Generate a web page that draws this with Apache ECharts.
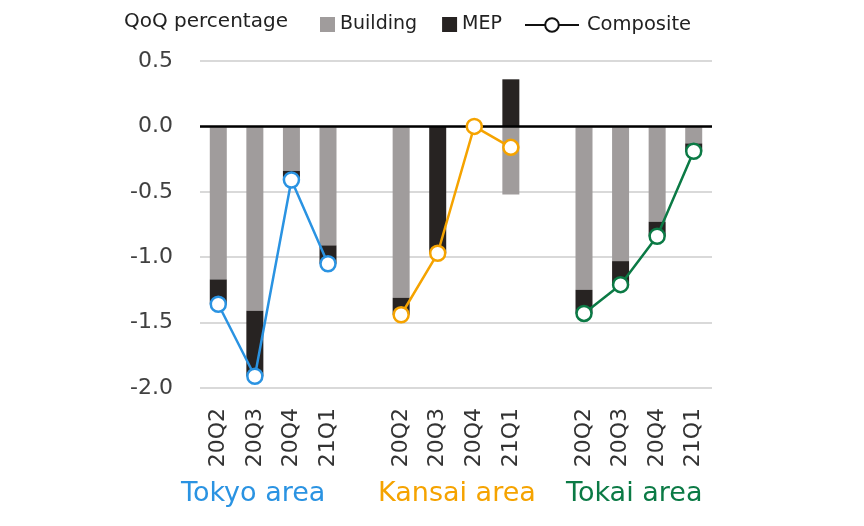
<!DOCTYPE html>
<html>
<head>
<meta charset="utf-8">
<script src="https://cdn.jsdelivr.net/npm/echarts@6/dist/echarts.min.js"></script>
<style>
html, body { margin: 0; padding: 0; background: #fff; }
#main { width: 864px; height: 526px; }
</style>
</head>
<body>
<div id="main"></div>
<script>
var quarters = ['20Q2', '20Q3', '20Q4', '21Q1'];
var areaNames = ['Tokyo area', 'Kansai area', 'Tokai area'];
var yTicks = [-2.0, -1.5, -1.0, -0.5, 0.0, 0.5];

// QoQ percentage
var tokyoBuilding = [-1.17, -1.41, -0.34, -0.91];
var tokyoMEP = [-0.19, -0.50, -0.07, -0.14];
var tokyoComposite = [-1.36, -1.91, -0.41, -1.05];

var kansaiBuilding = [-1.31, 0, 0, -0.52];
var kansaiMEP = [-0.13, -0.97, 0, 0.36];
var kansaiComposite = [-1.44, -0.97, 0.00, -0.16];

var tokaiBuilding = [-1.25, -1.03, -0.73, -0.13];
var tokaiMEP = [-0.18, -0.18, -0.11, -0.06];
var tokaiComposite = [-1.43, -1.21, -0.84, -0.19];

var FONT = 'DejaVu Sans';
var areaColors = ['#2a93e2', '#f5a300', '#0b7a45'];

// 4 quarters per area, one empty slot between areas
var categories = quarters.concat([''], quarters, [''], quarters);
var gap = [null];
var empty4 = [null, null, null, null];

var building = tokyoBuilding.concat(gap, kansaiBuilding, gap, tokaiBuilding);
var mep = tokyoMEP.concat(gap, kansaiMEP, gap, tokaiMEP);
var compTokyo = tokyoComposite.concat(gap, empty4, gap, empty4);
var compKansai = empty4.concat(gap, kansaiComposite, gap, empty4);
var compTokai = empty4.concat(gap, empty4, gap, tokaiComposite);

function compositeSeries(data, color) {
    return {
        type: 'line',
        data: data,
        connectNulls: false,
        symbol: 'circle',
        symbolSize: 15,
        z: 5,
        lineStyle: { color: color, width: 2.5 },
        itemStyle: { color: '#fff', borderColor: color, borderWidth: 2.5 }
    };
}

var myChart = echarts.init(document.getElementById('main'));

var option = {
    backgroundColor: '#fff',
    animation: false,
    title: {
        text: 'QoQ percentage',
        left: 119,
        top: 7,
        textStyle: { fontFamily: FONT, fontSize: 20, fontWeight: 'normal', color: '#222' }
    },
    legend: [{
        data: ['Building', 'MEP'],
        left: 315,
        top: 10,
        itemWidth: 15,
        itemHeight: 15,
        itemGap: 25,
        icon: 'rect',
        textStyle: { fontFamily: FONT, fontSize: 19, color: '#222' }
    }, {
        data: ['Composite'],
        left: 519,
        top: 10,
        itemWidth: 54,
        itemHeight: 17,
        textStyle: { fontFamily: FONT, fontSize: 19.5, color: '#222', padding: [0, 0, 0, 3] }
    }],
    grid: { left: 200, right: 152, top: 61, bottom: 138 },
    xAxis: {
        type: 'category',
        data: categories,
        axisLine: { show: false },
        axisTick: { show: false },
        axisLabel: {
            rotate: 90,
            interval: 0,
            margin: 20,
            fontFamily: FONT,
            fontSize: 22,
            color: '#333'
        }
    },
    yAxis: {
        type: 'value',
        min: yTicks[0],
        max: yTicks[yTicks.length - 1],
        interval: 0.5,
        axisLine: { show: false },
        axisTick: { show: false },
        axisLabel: {
            margin: 27,
            fontFamily: FONT,
            fontSize: 22,
            color: '#404040',
            formatter: function (v) { return v.toFixed(1); }
        },
        splitLine: { lineStyle: { color: '#cccccc', width: 1.5 } }
    },
    series: [{
        name: 'Building',
        type: 'bar',
        stack: 'total',
        barWidth: 17,
        data: building,
        itemStyle: { color: '#a09c9c' },
        markLine: {
            silent: true,
            symbol: 'none',
            label: { show: false },
            lineStyle: { color: '#000', width: 2.5, type: 'solid' },
            data: [{ yAxis: 0 }]
        }
    }, {
        name: 'MEP',
        type: 'bar',
        stack: 'total',
        barWidth: 17,
        data: mep,
        itemStyle: { color: '#272322' }
    }, {
        name: 'Composite',
        type: 'line',
        data: [],
        symbol: 'circle',
        symbolSize: 15,
        lineStyle: { color: '#111', width: 2.5 },
        itemStyle: { color: '#fff', borderColor: '#111', borderWidth: 2.5 }
    },
        compositeSeries(compTokyo, areaColors[0]),
        compositeSeries(compKansai, areaColors[1]),
        compositeSeries(compTokai, areaColors[2])
    ],
    graphic: [{
        type: 'text', left: 181, top: 480,
        style: { text: areaNames[0], fontFamily: FONT, fontSize: 27, fill: areaColors[0] }
    }, {
        type: 'text', left: 378, top: 480,
        style: { text: areaNames[1], fontFamily: FONT, fontSize: 27, fill: areaColors[1] }
    }, {
        type: 'text', left: 566, top: 480,
        style: { text: areaNames[2], fontFamily: FONT, fontSize: 27, fill: areaColors[2] }
    }]
};

myChart.setOption(option);
</script>
</body>
</html>
